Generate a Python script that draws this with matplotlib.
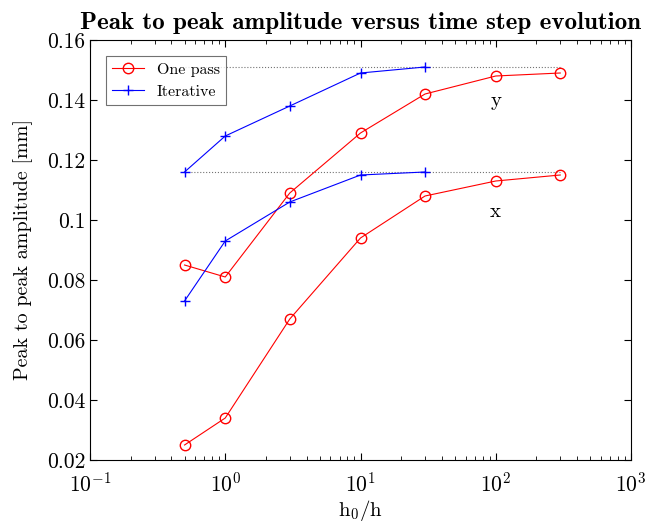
import numpy as np
import matplotlib
matplotlib.use('Agg')
import matplotlib.pyplot as plt

plt.rcParams['font.family'] = 'cmr10'
plt.rcParams['mathtext.fontset'] = 'cm'
plt.rcParams['axes.formatter.use_mathtext'] = True
plt.rcParams['axes.unicode_minus'] = False

# Data
h_one = [0.5, 1, 3, 10, 30, 100, 300]
one_y = [0.085, 0.081, 0.109, 0.129, 0.142, 0.148, 0.149]
one_x = [0.025, 0.034, 0.067, 0.094, 0.108, 0.113, 0.115]

h_iter = [0.5, 1, 3, 10, 30]
iter_y = [0.116, 0.128, 0.138, 0.149, 0.151]
iter_x = [0.073, 0.093, 0.106, 0.115, 0.116]

ref_levels = [0.151, 0.116]
ref_span = [0.5, 300]

fig = plt.figure(figsize=(6.61, 5.24), dpi=100)
ax = fig.add_axes([90/661, 64/524, 541/661, 420/524])

for lvl in ref_levels:
    ax.plot(ref_span, [lvl, lvl], ls=':', color='0.45', lw=0.8)

ax.plot(h_one, one_y, 'r-o', mfc='none', ms=7.5, lw=0.8, label='One pass')
ax.plot(h_iter, iter_y, 'b-+', ms=7.5, lw=0.8, label='Iterative')
ax.plot(h_one, one_x, 'r-o', mfc='none', ms=7.5, lw=0.8)
ax.plot(h_iter, iter_x, 'b-+', ms=7.5, lw=0.8)

ax.text(100, 0.1395, 'y', fontsize=15, ha='center', va='center')
ax.text(100, 0.1025, 'x', fontsize=15, ha='center', va='center')

ax.set_xscale('log')
ax.set_xlim(0.1, 1000)
ax.set_ylim(0.02, 0.16)
ax.set_yticks(np.arange(0.02, 0.161, 0.02))
ax.set_yticklabels(['0.02', '0.04', '0.06', '0.08', '0.1', '0.12', '0.14', '0.16'])
ax.tick_params(which='both', direction='in', top=True, right=True, labelsize=15.5)
ax.tick_params(axis='x', which='major', pad=8)
ax.tick_params(which='major', length=5)
ax.tick_params(which='minor', length=3)

ax.set_xlabel(r'$\mathrm{h}_0/\mathrm{h}$', fontsize=15, labelpad=2)
ax.set_ylabel('Peak to peak amplitude [mm]', fontsize=14.5, labelpad=10)
ax.set_title('Peak to peak amplitude versus time step evolution',
             fontsize=18, family='cmb10', pad=8)

leg = ax.legend(loc='upper left', fontsize=11.5, fancybox=False,
                edgecolor='0.3', handlelength=2.0, borderaxespad=1.0)
leg.get_frame().set_linewidth(0.8)

fig.savefig('out.png', dpi=100)
